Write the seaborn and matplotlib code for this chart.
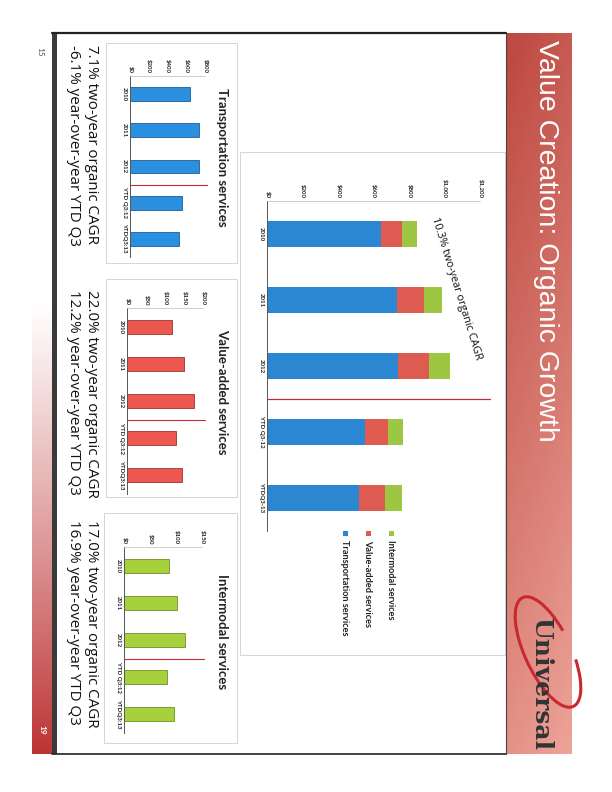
import numpy as np
import pandas as pd
import matplotlib
matplotlib.use("Agg")
import matplotlib.pyplot as plt
import seaborn as sns
from matplotlib.patches import Rectangle, Arc

# ---------------- data ----------------
categories_main = ["2010", "2011", "2012", "YTD Q3-12", "YTDQ3-13"]
categories_small = ["2010", "2011", "2012", "YTD Q3:12", "YTDQ3:13"]
transportation = [642, 735, 736, 554, 520]
value_added = [118, 150, 176, 129, 145]
intermodal = [86, 101, 117, 82, 96]
legend_names = ["Intermodal services", "Value-added services", "Transportation services"]
main_ticks = [0, 200, 400, 600, 800, 1000, 1200]
transport_ticks = [0, 200, 400, 600, 800]
value_ticks = [0, 50, 100, 150, 200]
intermodal_ticks = [0, 50, 100, 150]
panel_titles = ["Transportation services", "Value-added services", "Intermodal services"]
captions = [("7.1% two-year organic CAGR", "-6.1% year-over-year YTD Q3"),
            ("22.0% two-year organic CAGR", "12.2% year-over-year YTD Q3"),
            ("17.0% two-year organic CAGR", "16.9% year-over-year YTD Q3")]
main_note = "10.3% two-year organic CAGR"
slide_title = "Value Creation: Organic Growth"

BLUE, RED, GREEN = "#2C87D3", "#DE5B52", "#9DC643"
SBLUE, SRED, SGREEN = "#2B8FE0", "#EC584F", "#A6D03C"
LINE_RED = "#C8283A"

sns.set_style("white")
plt.rcParams["font.family"] = ["Lato", "DejaVu Sans"]

W, H = 612, 792
fig = plt.figure(figsize=(W / 100, H / 100), dpi=100)


def rect(x0, y0, x1, y1):
    return [x0 / W, 1 - y1 / H, (x1 - x0) / W, (y1 - y0) / H]


# ---------------- background / slide decoration ----------------
bg = fig.add_axes([0, 0, 1, 1], zorder=0)
bg.set_axis_off()

# title bar gradient
ny, nx = 300, 30
yf = np.linspace(0, 1, ny)[:, None]
xf = np.linspace(0, 1, nx)[None, :]
s = np.clip(0.8 * yf + 0.2 * xf, 0, 1)[..., None]
dark = np.array([0.74, 0.28, 0.25])
light = np.array([0.93, 0.64, 0.60])
bar_img = dark + (light - dark) * s
bg.imshow(bar_img, extent=(506, 572, 754, 33), aspect="auto", interpolation="bilinear")

# bottom (left here) red strip
ys = np.linspace(33, 754, 300)[:, None]
alpha = np.clip((ys - 300) / (754 - 300), 0, 1) ** 1.1
strip = np.zeros((300, 1, 4))
strip[..., 0] = 0.74
strip[..., 1] = 0.20
strip[..., 2] = 0.20
strip[..., 3] = alpha
bg.imshow(strip, extent=(32, 52, 754, 33), aspect="auto", interpolation="bilinear")
bg.add_patch(Rectangle((52, 33), 5, 721, color="#3a3a3a", lw=0))
bg.plot([52, 506], [33, 33], color="#222222", lw=1.6)
bg.plot([52, 506], [754, 754], color="#222222", lw=1.2)
bg.plot([506, 506], [33, 754], color="#444444", lw=0.8)

# frames
bg.add_patch(Rectangle((240, 152), 265, 503, fill=False, ec="#cfcfcf", lw=0.6))
for (x0, y0, x1, y1) in [(106, 43, 237, 263), (106, 279, 237, 497), (104, 513, 237, 743)]:
    bg.add_patch(Rectangle((x0, y0), x1 - x0, y1 - y0, fill=False, ec="#c8d0d8", lw=0.6))

# title & logo
bg.text(546, 40, slide_title, rotation=270, ha="center", va="top", color="white",
        fontsize=20.5, family=["Liberation Sans Narrow", "Liberation Sans", "DejaVu Sans"])
bg.add_patch(Arc((548, 652), 46, 120, angle=-25, theta1=40, theta2=330,
                 color="#C8282E", lw=2.2))
bg.text(541, 750, "Universal", rotation=270, ha="center", va="bottom", color="#333333",
        fontsize=18, fontweight="bold", family=["DejaVu Serif"])

# page numbers
bg.text(40, 52, "15", rotation=270, ha="center", va="center", color="#555555", fontsize=6)
bg.text(42, 730, "19", rotation=270, ha="center", va="center", color="white",
        fontsize=6, fontweight="bold")

# captions & panel titles
cap_tops = [45, 290, 520]
title_centers = [157, 392, 632]
for (l1, l2), yt, tt, yc in zip(captions, cap_tops, panel_titles, title_centers):
    bg.text(91, yt, l1, rotation=270, ha="center", va="top", fontsize=10.9,
            color="#111111", family=["Open Sans", "DejaVu Sans"])
    bg.text(73, yt, l2, rotation=270, ha="center", va="top", fontsize=10.9,
            color="#111111", family=["Open Sans", "DejaVu Sans"])
    bg.text(222, yc, tt, rotation=270, ha="center", va="center", fontsize=9.5,
            fontweight="bold", color="#222222")

# legend for main chart
leg_colors = [GREEN, RED, BLUE]
leg_x = [391, 368, 345]
for name, c, lx in zip(legend_names, leg_colors, leg_x):
    bg.add_patch(Rectangle((lx - 2.5, 531), 5, 5, color=c, lw=0))
    bg.text(lx, 540, name, rotation=270, ha="center", va="top", fontsize=6.6,
            fontweight="bold", color="#222222")

bg.set_xlim(0, W)
bg.set_ylim(H, 0)


def style_axis(ax, ticks, labels, fs):
    ax.set_facecolor("none")
    ax.xaxis.tick_top()
    ax.set_xticks(ticks)
    ax.set_xticklabels(["${:,}".format(t) for t in ticks], rotation=270,
                       fontsize=fs, fontweight="bold", color="#222222")
    ax.set_yticks(range(len(labels)))
    ax.set_yticklabels(labels, rotation=270, fontsize=fs, fontweight="bold",
                       color="#222222", va="center")
    ax.tick_params(axis="both", length=0, pad=2)
    ax.set_xlabel("")
    ax.set_ylabel("")
    for sp in ["right", "bottom"]:
        ax.spines[sp].set_visible(False)
    ax.spines["left"].set_color("#555555")
    ax.spines["left"].set_linewidth(0.7)
    ax.spines["top"].set_color("#bbbbbb")
    ax.spines["top"].set_linewidth(0.5)
    ax.spines["top"].set_linestyle((0, (2, 1)))


# ---------------- main stacked chart ----------------
ax = fig.add_axes(rect(267, 201, 480, 531), zorder=2)
tot3 = [a + b + c for a, b, c in zip(transportation, value_added, intermodal)]
tot2 = [a + b for a, b in zip(transportation, value_added)]
df_main = pd.DataFrame({"cat": categories_main, "t3": tot3, "t2": tot2, "t1": transportation})
sns.barplot(data=df_main, x="t3", y="cat", orient="h", color=GREEN, saturation=1,
            width=0.4, ax=ax, linewidth=0)
sns.barplot(data=df_main, x="t2", y="cat", orient="h", color=RED, saturation=1,
            width=0.4, ax=ax, linewidth=0)
sns.barplot(data=df_main, x="t1", y="cat", orient="h", color=BLUE, saturation=1,
            width=0.4, ax=ax, linewidth=0)
ax.set_xlim(0, 1200)
ax.set_ylim(4.5, -0.5)
style_axis(ax, main_ticks, categories_main, 4.4)
ax.plot([0, 1255], [2.5, 2.5], color=LINE_RED, lw=0.9, clip_on=False)
ax.text(1068, 0.82, main_note, rotation=-72.8, rotation_mode="anchor",
        ha="center", va="center", fontsize=7.8, color="#111111",
        family=["Open Sans", "DejaVu Sans"])

# ---------------- small panels ----------------
panels = [
    (rect(130, 76, 205, 257), transportation, SBLUE, "#1d5f9a", 800, transport_ticks),
    (rect(127, 308, 203, 494), value_added, SRED, "#9b3530", 200, value_ticks),
    (rect(124, 547, 202, 733), intermodal, SGREEN, "#6f8f2a", 150, intermodal_ticks),
]
for pos, vals, col, edge, xmax, ticks in panels:
    a = fig.add_axes(pos, zorder=2)
    d = pd.DataFrame({"cat": categories_small, "v": vals})
    sns.barplot(data=d, x="v", y="cat", orient="h", color=col, saturation=1,
                width=0.38, ax=a, edgecolor=edge, linewidth=0.6)
    a.set_xlim(0, xmax)
    a.set_ylim(4.5, -0.5)
    style_axis(a, ticks, categories_small, 4.4)
    a.plot([0, xmax * 1.03], [2.5, 2.5], color=LINE_RED, lw=0.8, clip_on=False)

fig.savefig("out.png", dpi=100, facecolor="white")
